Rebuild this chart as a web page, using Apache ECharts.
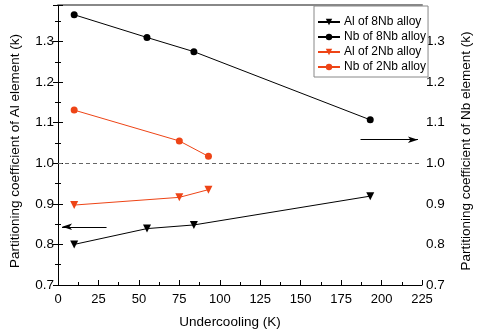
<!DOCTYPE html>
<html>
<head>
<meta charset="utf-8">
<script src="https://cdn.jsdelivr.net/npm/echarts@6/dist/echarts.min.js"></script>
<style>html,body{margin:0;padding:0;background:#fff}#c{width:481px;height:334px}</style>
</head>
<body>
<div id="c"></div>
<script>
// Data
var x8Nb = [10, 55, 84, 193];
var al8Nb = [0.800, 0.839, 0.848, 0.919];
var nb8Nb = [1.366, 1.310, 1.275, 1.107];
var x2Nb = [10, 75, 93];
var al2Nb = [0.897, 0.916, 0.935];
var nb2Nb = [1.131, 1.055, 1.017];
var seriesNames = ['Al of 8Nb alloy', 'Nb of 8Nb alloy', 'Al of 2Nb alloy', 'Nb of 2Nb alloy'];
var xTitle = 'Undercooling (K)';
var yLeftTitle = 'Partitioning coefficient of Al element (k)';
var yRightTitle = 'Partitioning coefficient of Nb element (k)';
var refLevel = 1.0;
var leftArrow = [[30, 0.8435], [2.5, 0.8435]];
var rightArrow = [[187, 1.058], [222.5, 1.058]];

function pairs(xs, ys) { return xs.map(function (x, i) { return [x, ys[i]]; }); }

var FONT = '"Liberation Sans", Arial, sans-serif';
var BLACK = '#000';
var RED = '#EE4416';

function yAxisCfg(pos, name, gap) {
  return {
    type: 'value', position: pos, min: 0.7, max: 1.39, interval: 0.1,
    name: name, nameLocation: 'middle', nameGap: gap, nameRotate: 90,
    nameTextStyle: { fontFamily: FONT, fontSize: 13.5, color: BLACK, padding: [0, 12, 0, 0] },
    axisLine: { show: true, lineStyle: { color: BLACK, width: 1 } },
    axisTick: { show: true, inside: true, length: 5, lineStyle: { color: BLACK } },
    minorTick: { show: true, splitNumber: 2, length: 3, lineStyle: { color: BLACK } },
    axisLabel: { fontFamily: FONT, fontSize: 13.5, color: BLACK, margin: 4, showMaxLabel: false,
      formatter: function (v) { return v.toFixed(1); } },
    splitLine: { show: false }
  };
}

var option = {
  animation: false,
  backgroundColor: '#fff',
  grid: { left: 52, right: 48.5, top: 5, bottom: 46, containLabel: false },
  xAxis: [{
    type: 'value', min: 0, max: 225, interval: 25,
    name: xTitle, nameLocation: 'middle', nameGap: 30,
    nameTextStyle: { fontFamily: FONT, fontSize: 13.5, color: BLACK, padding: [0, 20, 0, 0] },
    axisLine: { show: true, onZero: false, lineStyle: { color: BLACK, width: 1 } },
    axisTick: { show: true, inside: true, length: 5, lineStyle: { color: BLACK } },
    minorTick: { show: true, splitNumber: 2, length: 3, lineStyle: { color: BLACK } },
    axisLabel: { fontFamily: FONT, fontSize: 13, color: BLACK, margin: 8 },
    splitLine: { show: false }
  }, {
    type: 'value', position: 'top', min: 0, max: 225,
    axisLine: { show: true, onZero: false, lineStyle: { color: '#888', width: 2 } },
    axisTick: { show: false }, axisLabel: { show: false }, splitLine: { show: false }
  }],
  yAxis: [yAxisCfg('left', yLeftTitle, 36), yAxisCfg('right', yRightTitle, 37)],
  legend: {
    orient: 'vertical', left: 314, top: 6,
    padding: [10, 2, 4, 3],
    itemWidth: 22, itemHeight: 8, itemGap: 3,
    borderColor: '#888', borderWidth: 1, backgroundColor: '#fff',
    textStyle: { fontFamily: FONT, fontSize: 12, color: BLACK, padding: [0, 0, 0, -1] },
    data: seriesNames
  },
  series: [
    {
      name: seriesNames[0], type: 'line', xAxisIndex: 0, yAxisIndex: 0,
      data: pairs(x8Nb, al8Nb), symbol: 'triangle', symbolRotate: 180, symbolSize: 8,
      lineStyle: { color: BLACK, width: 1 }, itemStyle: { color: BLACK },
      markLine: {
        silent: true, symbol: ['none', 'none'], label: { show: false },
        lineStyle: { color: '#666', type: [4, 3], width: 1 },
        data: [{ yAxis: refLevel }]
      }
    },
    {
      name: seriesNames[1], type: 'line', xAxisIndex: 0, yAxisIndex: 1,
      data: pairs(x8Nb, nb8Nb), symbol: 'circle', symbolSize: 7,
      lineStyle: { color: BLACK, width: 1 }, itemStyle: { color: BLACK }
    },
    {
      name: seriesNames[2], type: 'line', xAxisIndex: 0, yAxisIndex: 0,
      data: pairs(x2Nb, al2Nb), symbol: 'triangle', symbolRotate: 180, symbolSize: 8,
      lineStyle: { color: RED, width: 1 }, itemStyle: { color: RED }
    },
    {
      name: seriesNames[3], type: 'line', xAxisIndex: 0, yAxisIndex: 1,
      data: pairs(x2Nb, nb2Nb), symbol: 'circle', symbolSize: 7,
      lineStyle: { color: RED, width: 1 }, itemStyle: { color: RED }
    },
    {
      name: 'arrows', type: 'line', xAxisIndex: 0, yAxisIndex: 0, data: [],
      markLine: {
        silent: true, symbol: ['none', 'arrow'], symbolSize: [5, 10], label: { show: false },
        lineStyle: { color: BLACK, type: 'solid', width: 1 },
        data: [
          [{ coord: leftArrow[0] }, { coord: leftArrow[1] }],
          [{ coord: rightArrow[0] }, { coord: rightArrow[1] }]
        ]
      }
    }
  ]
};
var chart = echarts.init(document.getElementById('c'), null, { renderer: 'canvas' });
chart.setOption(option);
</script>
</body>
</html>
